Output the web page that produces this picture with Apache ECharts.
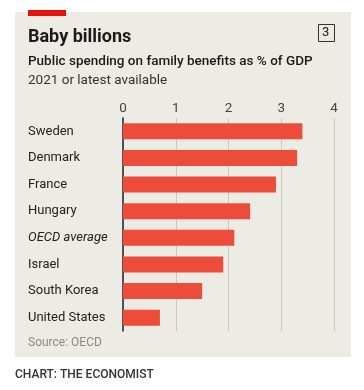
<!DOCTYPE html>
<html><head><meta charset="utf-8">
<script src="https://cdn.jsdelivr.net/npm/echarts@6/dist/echarts.min.js"></script>
<style>html,body{margin:0;padding:0;background:#fff}#c{width:364px;height:390px}</style>
</head><body><div id="c"></div>
<script>
const categories = ["Sweden","Denmark","France","Hungary","OECD average","Israel","South Korea","United States"];
const values = [3.4, 3.3, 2.9, 2.41, 2.11, 1.9, 1.5, 0.7];
const tickValues = [0, 1, 2, 3, 4];

const chart = echarts.init(document.getElementById('c'), null, {renderer:'canvas'});
const F = 'Roboto, "Liberation Sans", sans-serif';
chart.setOption({
  animation: false,
  backgroundColor: '#ffffff',
  grid: {left: 123, right: 30, top: 118, height: 213},
  xAxis: {
    type: 'value', position: 'top', min: tickValues[0], max: tickValues[tickValues.length-1], interval: 1,
    axisLine: {show: false}, axisTick: {show: false},
    axisLabel: {color: '#444', fontFamily: F, fontSize: 13.5, margin: 2},
    splitLine: {lineStyle: {color: '#cbcac2', width: 1}}
  },
  yAxis: {
    type: 'category', data: categories, inverse: true,
    axisLine: {lineStyle: {color: '#222', width: 1.5}}, axisTick: {show: false},
    axisLabel: {
      align: 'left', margin: 95, color: '#222', fontFamily: F, fontSize: 13,
      formatter: v => v === 'OECD average' ? '{i|' + v + '}' : v,
      rich: {i: {fontStyle: 'italic', color: '#222', fontFamily: F, fontSize: 13}}
    }
  },
  series: [{
    type: 'bar', data: values, barWidth: 16,
    itemStyle: {color: '#ee4c3a'}, z: 3
  }],
  graphic: [
    {type: 'rect', z: -10, shape: {x: 15, y: 12, width: 336, height: 345}, style: {fill: '#ecebe4'}},
    {type: 'rect', z: 10, shape: {x: 28, y: 10, width: 38, height: 6}, style: {fill: '#e3120b'}},
    {type: 'text', z: 10, left: 28, top: 28, style: {text: 'Baby billions', font: 'bold 18px ' + F, fill: '#1a1a1a'}},
    {type: 'rect', z: 10, shape: {x: 318.5, y: 24.5, width: 16, height: 17}, style: {fill: 'none', stroke: '#333', lineWidth: 1}},
    {type: 'text', z: 10, left: 322, top: 26, style: {text: '3', font: '13px ' + F, fill: '#222'}},
    {type: 'text', z: 10, left: 28, top: 55, style: {text: 'Public spending on family benefits as % of GDP', font: '500 13.5px ' + F, fill: '#1a1a1a'}},
    {type: 'text', z: 10, left: 28, top: 74, style: {text: '2021 or latest available', font: '13.5px ' + F, fill: '#333'}},
    {type: 'text', z: 10, left: 28, top: 337, style: {text: 'Source: OECD', font: '12px ' + F, fill: '#8a8a86'}},
    {type: 'text', z: 10, left: 15, top: 369, style: {text: 'CHART: THE ECONOMIST', font: '500 12px ' + F, fill: '#333'}}
  ]
});
</script></body></html>
